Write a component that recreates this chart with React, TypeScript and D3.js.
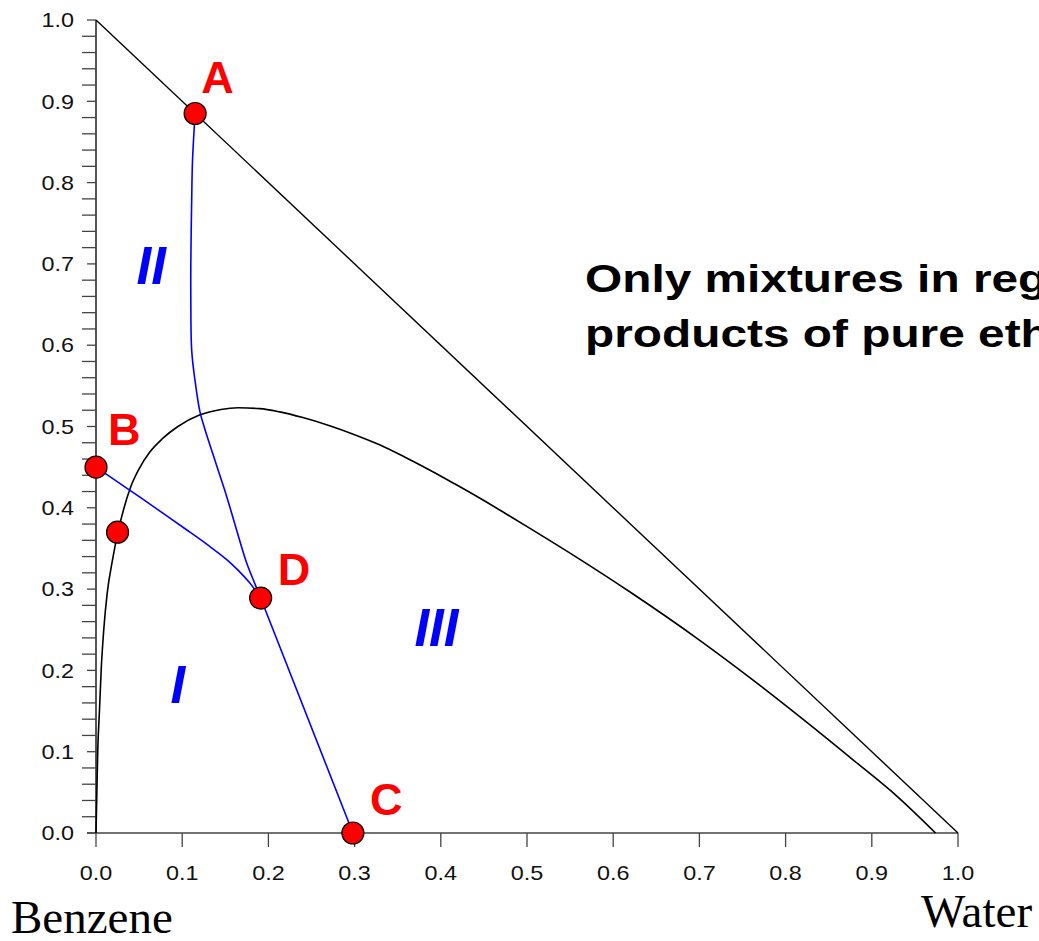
import React from "react";
import * as d3 from "d3";

// Ternary-style phase diagram: benzene (origin), water (x) and ethanol (y)
const W = 1039;
const H = 941;

const xTicks = [0, 0.1, 0.2, 0.3, 0.4, 0.5, 0.6, 0.7, 0.8, 0.9, 1.0];
const yTicks = [0, 0.1, 0.2, 0.3, 0.4, 0.5, 0.6, 0.7, 0.8, 0.9, 1.0];
const yMinorTicks = d3.range(0, 51).map((i) => i / 50);

// Binodal (two-phase boundary) curve: [water, ethanol]
const binodalX = [0, 0.001, 0.002, 0.004, 0.006, 0.009, 0.013, 0.019, 0.025, 0.032, 0.04, 0.05, 0.062, 0.077, 0.095, 0.12, 0.145, 0.165, 0.19, 0.213, 0.24, 0.271, 0.3, 0.329, 0.358, 0.387, 0.416, 0.445, 0.475, 0.503, 0.56, 0.62, 0.7, 0.76, 0.82, 0.88, 0.93, 0.974];
const binodalY = [0, 0.05, 0.1, 0.15, 0.2, 0.25, 0.295, 0.335, 0.368, 0.398, 0.425, 0.448, 0.468, 0.485, 0.5, 0.514, 0.521, 0.523, 0.522, 0.518, 0.511, 0.501, 0.49, 0.4775, 0.4625, 0.4465, 0.4295, 0.412, 0.393, 0.375, 0.3375, 0.2961, 0.2373, 0.1899, 0.1401, 0.0885, 0.0445, 0];

// Operating path A -> D
const pathADX = [0.115, 0.112, 0.111, 0.11, 0.11, 0.111, 0.1148, 0.1206, 0.1265, 0.139, 0.1516, 0.163, 0.1748, 0.183, 0.191];
const pathADY = [0.885, 0.828, 0.779, 0.7, 0.656, 0.594, 0.557, 0.518, 0.496, 0.455, 0.414, 0.373, 0.332, 0.31, 0.289];

// Straight line D -> C
const pathDCX = [0.191, 0.298];
const pathDCY = [0.289, 0.0];

// Line B -> D
const pathBDX = [0, 0.036, 0.07, 0.105, 0.13, 0.152, 0.165, 0.178, 0.191];
const pathBDY = [0.45, 0.424, 0.399, 0.373, 0.354, 0.336, 0.323, 0.308, 0.289];

// Marked compositions
const pointNames = ["A", "B", "", "D", "C"];
const pointX = [0.115, 0, 0.025, 0.191, 0.298];
const pointY = [0.885, 0.45, 0.37, 0.289, 0.0];

const regionNames = ["II", "I", "III"];
const regionX = [0.064, 0.095, 0.395];
const regionY = [0.675, 0.16, 0.23];

const x = d3.scaleLinear().domain([0, 1]).range([96, 958]);
const y = d3.scaleLinear().domain([0, 1]).range([833, 20]);

const zip = (xs: number[], ys: number[]) => xs.map((v, i) => [v, ys[i]] as [number, number]);

const smooth = d3
  .line<[number, number]>()
  .x((d) => x(d[0]))
  .y((d) => y(d[1]))
  .curve(d3.curveCatmullRom.alpha(0.5));

// the binodal is single-valued in water fraction, so a monotone spline keeps it smooth
const monotone = d3
  .line<[number, number]>()
  .x((d) => x(d[0]))
  .y((d) => y(d[1]))
  .curve(d3.curveMonotoneX);

const straight = d3
  .line<[number, number]>()
  .x((d) => x(d[0]))
  .y((d) => y(d[1]));

const sans = "'Liberation Sans', Arial, sans-serif";
const serif = "'Liberation Serif', 'Times New Roman', serif";

// horizontal stretch applied to the sans-serif lettering
const TICK_STRETCH = 1.17;
const NOTE_STRETCH = 1.226;

const labelOffsets: Record<string, [number, number]> = {
  A: [6, -20],
  B: [12, -22],
  D: [17, -13],
  C: [17, -18],
};

export default function App() {
  return (
    <svg
      width={W}
      height={H}
      style={{ position: "absolute", left: 0, top: 0, background: "#fff" }}
    >
      {/* axes */}
      <line x1={x(0)} x2={x(0)} y1={y(0)} y2={y(1)} stroke="#555" strokeWidth={2} />
      <line x1={x(0) - 9} x2={x(1)} y1={y(0)} y2={y(0)} stroke="#444" strokeWidth={1.3} />
      {yMinorTicks.map((t) => {
        const major = Math.abs(t * 10 - Math.round(t * 10)) < 1e-6;
        return (
          <line
            key={"ym" + t}
            x1={x(0) - (major ? 9 : 14)}
            x2={x(0)}
            y1={y(t)}
            y2={y(t)}
            stroke="#444"
            strokeWidth={1.3}
          />
        );
      })}
      {yTicks.map((t) => (
        <g key={"yl" + t} transform={`translate(74,${y(t)}) scale(${TICK_STRETCH},1)`}>
          <text
            dy="0.36em"
            textAnchor="end"
            fontFamily={sans}
            fontSize={20}
            fill="#111"
          >
            {t.toFixed(1)}
          </text>
        </g>
      ))}
      {xTicks.map((t) => (
        <g key={"x" + t}>
          <line x1={x(t)} x2={x(t)} y1={y(0)} y2={y(0) + 14} stroke="#444" strokeWidth={1.3} />
          <g transform={`translate(${x(t)},${y(0) + 40}) scale(${TICK_STRETCH},1)`}>
            <text
              dy="0.36em"
              textAnchor="middle"
              fontFamily={sans}
              fontSize={20}
              fill="#111"
            >
              {t.toFixed(1)}
            </text>
          </g>
        </g>
      ))}

      {/* triangle hypotenuse */}
      <path d={straight([[0, 1], [1, 0]]) || ""} stroke="#000" strokeWidth={1.4} fill="none" />

      {/* binodal curve */}
      <path d={monotone(zip(binodalX, binodalY)) || ""} stroke="#000" strokeWidth={1.6} fill="none" />

      {/* operating lines */}
      <path d={smooth(zip(pathADX, pathADY)) || ""} stroke="#0000ff" strokeWidth={1.6} fill="none" />
      <path d={straight(zip(pathDCX, pathDCY)) || ""} stroke="#0000ff" strokeWidth={1.6} fill="none" />
      <path d={smooth(zip(pathBDX, pathBDY)) || ""} stroke="#0000ff" strokeWidth={1.6} fill="none" />

      {/* points */}
      {pointX.map((px, i) => (
        <circle
          key={"p" + i}
          cx={x(px)}
          cy={y(pointY[i])}
          r={11}
          fill="#ff0000"
          stroke="#000"
          strokeWidth={1.2}
        />
      ))}
      {pointNames.map((n, i) =>
        n ? (
          <text
            key={"n" + n}
            x={x(pointX[i]) + labelOffsets[n][0]}
            y={y(pointY[i]) + labelOffsets[n][1]}
            fontFamily={sans}
            fontWeight="bold"
            fontSize={45}
            fill="#ff0000"
          >
            {n}
          </text>
        ) : null
      )}

      {/* region labels */}
      {regionNames.map((n, i) => (
        <text
          key={"r" + n}
          x={x(regionX[i])}
          y={y(regionY[i])}
          textAnchor="middle"
          fontFamily={sans}
          fontWeight="bold"
          fontStyle="italic"
          fontSize={53}
          fill="#0000ff"
        >
          {n}
        </text>
      ))}

      {/* annotation */}
      <g transform={`translate(585,0) scale(${NOTE_STRETCH},1)`}>
        <text fontFamily={sans} fontWeight="bold" fontSize={39} fill="#000">
          <tspan x={0} y={292}>Only mixtures in region I can yield</tspan>
          <tspan x={0} y={347}>products of pure ethanol</tspan>
        </text>
      </g>

      {/* corner component names */}
      <text x={11} y={933} fontFamily={serif} fontSize={47} fill="#000">
        Benzene
      </text>
      <text x={921} y={927} fontFamily={serif} fontSize={47} fill="#000">
        Water
      </text>
    </svg>
  );
}
